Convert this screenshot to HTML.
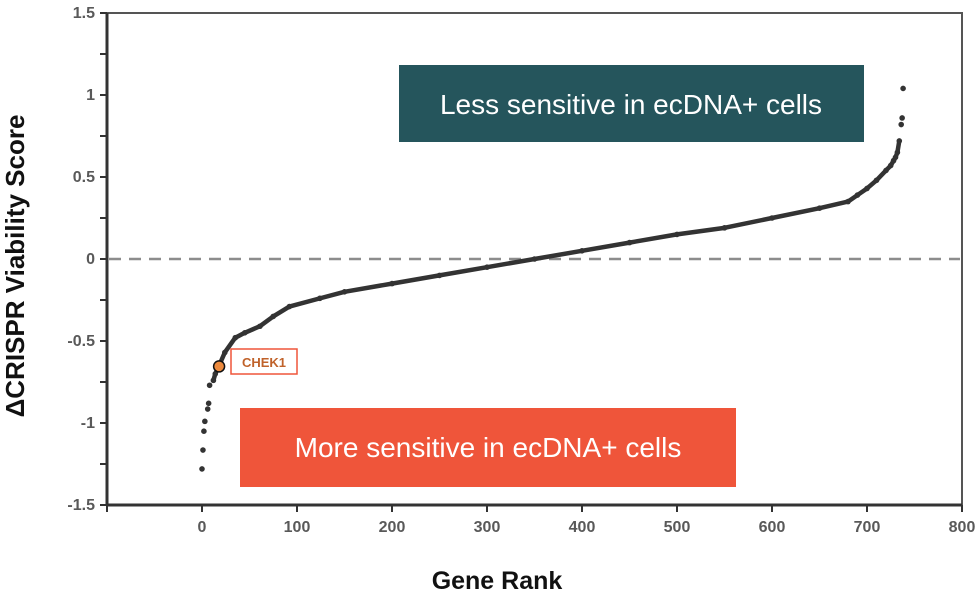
<!DOCTYPE html>
<html><head><meta charset="utf-8"><style>
body{margin:0;background:#fff;}
svg{display:block;font-family:"Liberation Sans",sans-serif;}
</style></head><body>
<svg id="chart" width="979" height="603">
</svg>
<script>
const ranks=[0,1,2,3,6,7,8,12,14,18,24,35,45,61,75,92,124,150,200,250,300,350,400,450,500,550,600,650,680,690,700,710,720,725,728,730,732,734,736,737,738];
const values=[-1.28,-1.165,-1.05,-0.99,-0.915,-0.88,-0.77,-0.74,-0.70,-0.65,-0.57,-0.48,-0.45,-0.41,-0.35,-0.29,-0.24,-0.20,-0.15,-0.10,-0.05,0.0,0.05,0.10,0.15,0.19,0.25,0.31,0.35,0.39,0.43,0.48,0.54,0.57,0.60,0.62,0.65,0.72,0.82,0.86,1.04];
const yTicks=[1.5,1,0.5,0,-0.5,-1,-1.5];
const yTickLabels=["1.5","1","0.5","0","-0.5","-1","-1.5"];
const xTicks=[0,100,200,300,400,500,600,700,800];
const highlightRank=[18];
const highlightValue=[-0.655];

const NS="http://www.w3.org/2000/svg";
const svg=document.getElementById('chart');
const X0=107,X1=962,Y0=13,Y1=505;
function sx(r){return X0+(r+100)/900*(X1-X0);}
function sy(v){return Y0+(1.5-v)/3*(Y1-Y0);}
function mk(tag,attrs,parent){const e=document.createElementNS(NS,tag);for(const k in attrs)e.setAttribute(k,attrs[k]);(parent||svg).appendChild(e);return e;}

let f=mk('rect',{x:X0,y:Y0,width:X1-X0,height:Y1-Y0,fill:'none',stroke:'#555',"stroke-width":2});


let ya=mk('line',{x1:X0,y1:Y0,x2:X0,y2:Y1,stroke:'#333',"stroke-width":3});


let xa=mk('line',{x1:X0,y1:Y1,x2:X1,y2:Y1,stroke:'#333',"stroke-width":3});



for(let v=-1.5;v<=1.501;v+=0.25){
  const t=mk('line',{x1:X0-7,y1:sy(v),x2:X0,y2:sy(v),stroke:'#333',"stroke-width":2});
  
  
}
yTicks.forEach((v,i)=>{
  const t=mk('text',{x:X0-12,y:sy(v)+5,"text-anchor":"end","font-size":16,"font-weight":"bold",fill:'#595959'});
  t.textContent=yTickLabels[i];
  
  
});
[-100].concat(xTicks).forEach(r=>{
  const t=mk('line',{x1:sx(r),y1:Y1,x2:sx(r),y2:Y1+7,stroke:'#333',"stroke-width":2});
  
  
});
xTicks.forEach(r=>{
  const t=mk('text',{x:sx(r),y:Y1+27,"text-anchor":"middle","font-size":16,"font-weight":"bold",fill:'#595959'});
  t.textContent=String(r);
  
  
});

let z=mk('line',{x1:X0+2,y1:sy(0),x2:X1-2,y2:sy(0),stroke:'#8c8c8c',"stroke-width":2.5,"stroke-dasharray":"12 8"});



let b1=mk('rect',{x:399,y:65,width:465,height:77,fill:'#25555C'});


let t1=mk('text',{x:631,y:114,"text-anchor":"middle","font-size":28,fill:'#fff'});
t1.textContent='Less sensitive in ecDNA+ cells';


let b2=mk('rect',{x:240,y:408,width:496,height:79,fill:'#EF553A'});


let t2=mk('text',{x:488,y:457,"text-anchor":"middle","font-size":28,fill:'#fff'});
t2.textContent='More sensitive in ecDNA+ cells';



const pts=[];
ranks.forEach((r,i)=>{if(r>=12&&r<=734)pts.push(sx(r)+','+sy(values[i]));});
let pl=mk('polyline',{points:pts.join(' '),fill:'none',stroke:'#333',"stroke-width":4.5,"stroke-linejoin":"round","stroke-linecap":"round"});


ranks.forEach((r,i)=>{
  const c=mk('circle',{cx:sx(r),cy:sy(values[i]),r:2.8,fill:'#333'});
  
  
});

let hc=mk('circle',{cx:sx(highlightRank[0]),cy:sy(highlightValue[0]),r:5.5,fill:'#EC8A3E',stroke:'#111',"stroke-width":1.5});


let hb=mk('rect',{x:231,y:349,width:66,height:25,fill:'#fff',stroke:'#EF553A',"stroke-width":1.5});


let ht=mk('text',{x:264,y:367,"text-anchor":"middle","font-size":13,"font-weight":"bold",fill:'#C0622A'});
ht.textContent='CHEK1';



let yt=mk('text',{x:0,y:0,transform:'translate(24,266) rotate(-90)',"text-anchor":"middle","font-size":26,"font-weight":"bold",fill:'#111'});
yt.textContent='ΔCRISPR Viability Score';


let xt=mk('text',{x:497,y:589,"text-anchor":"middle","font-size":25,"font-weight":"bold",fill:'#111'});
xt.textContent='Gene Rank';


</script>
</body></html>
